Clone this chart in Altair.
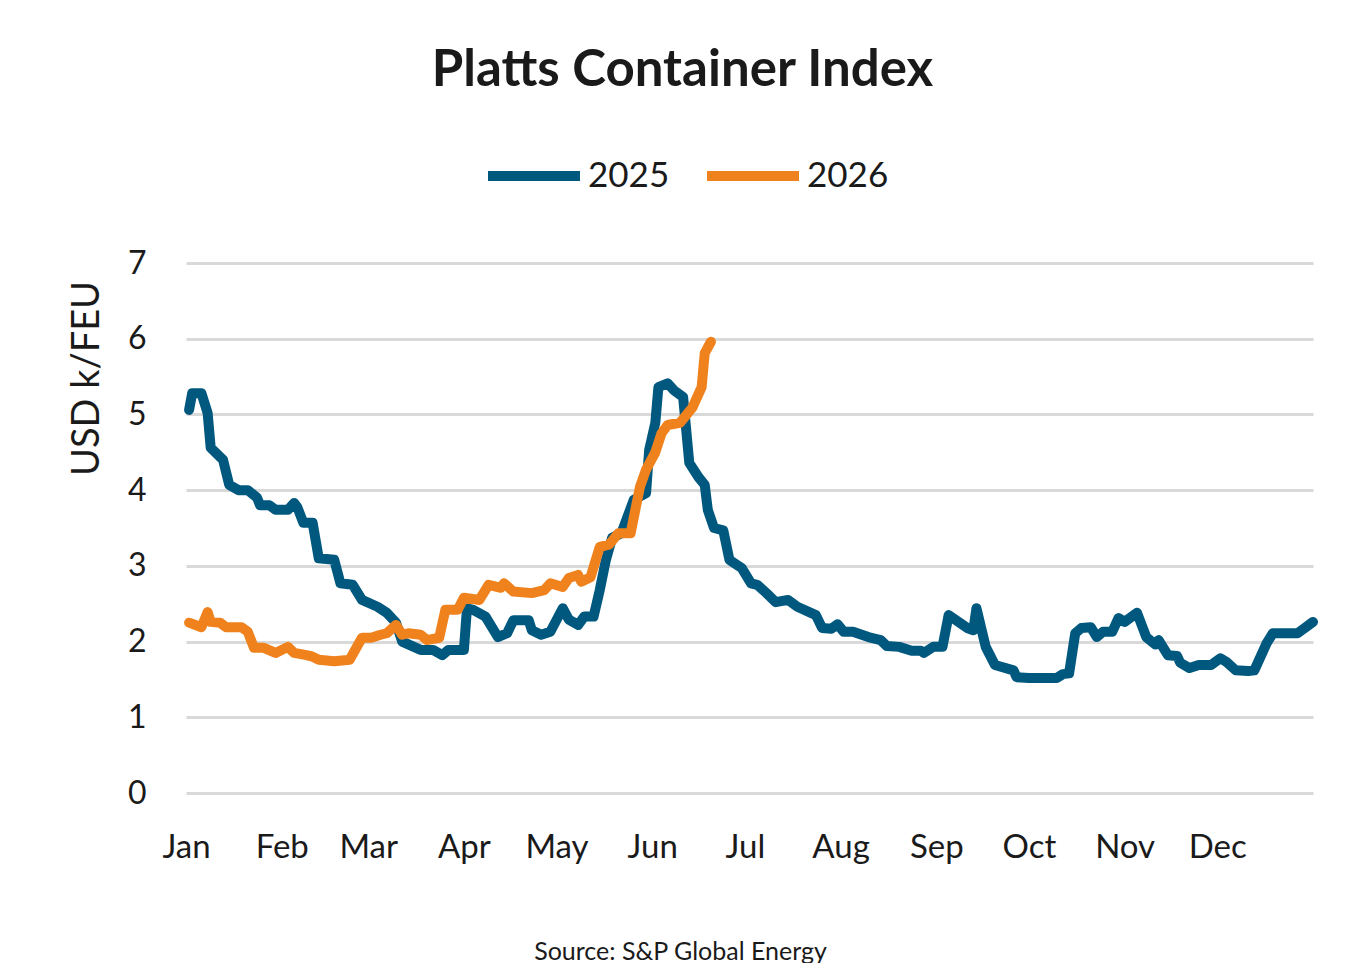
import altair as alt
import pandas as pd

# Day of year (0 = Jan 1) and index value (USD k/FEU)
days_2025 = [1, 2, 5, 7, 8, 12, 14, 17, 20, 23, 24, 27, 29, 33, 35, 36, 38, 41, 43, 48,
             50, 54, 57, 62, 65, 68, 70, 76, 80, 83, 85, 90, 91, 93, 97, 101, 104, 106, 111, 112,
             115, 118, 122, 124, 127, 129, 132, 134, 136, 138, 141, 145, 149, 150, 152, 153, 156, 158, 161, 163,
             166, 168, 169, 171, 174, 176, 180, 183, 185, 188, 191, 195, 198, 204, 206, 209, 211, 213, 216, 221,
             225, 227, 231, 235, 238, 239, 242, 245, 247, 253, 255, 256, 259, 262, 268, 269, 273, 282, 284, 286,
             288, 290, 293, 295, 297, 300, 302, 304, 308, 311, 314, 315, 318, 321, 322, 325, 328, 332, 335, 337,
             340, 344, 346, 350, 352, 360, 362, 365]
values_2025 = [5.06, 5.28, 5.28, 5.02, 4.56, 4.40, 4.07, 4.00, 4.00, 3.90, 3.80, 3.80, 3.74, 3.74, 3.83, 3.78, 3.57, 3.57, 3.10, 3.08,
               2.77, 2.75, 2.55, 2.46, 2.38, 2.25, 2.00, 1.89, 1.89, 1.82, 1.89, 1.89, 2.44, 2.42, 2.33, 2.06, 2.11, 2.28, 2.28, 2.15,
               2.09, 2.13, 2.44, 2.29, 2.22, 2.33, 2.33, 2.68, 3.08, 3.37, 3.43, 3.87, 3.96, 4.53, 4.89, 5.36, 5.41, 5.32, 5.23, 4.36,
               4.17, 4.07, 3.74, 3.50, 3.47, 3.08, 2.97, 2.77, 2.75, 2.64, 2.52, 2.55, 2.46, 2.35, 2.18, 2.17, 2.23, 2.13, 2.13, 2.06,
               2.02, 1.94, 1.93, 1.88, 1.88, 1.85, 1.93, 1.93, 2.35, 2.18, 2.15, 2.44, 1.93, 1.69, 1.62, 1.53, 1.52, 1.52, 1.57, 1.58,
               2.11, 2.18, 2.19, 2.06, 2.13, 2.13, 2.31, 2.26, 2.38, 2.06, 1.96, 2.02, 1.82, 1.81, 1.72, 1.65, 1.69, 1.69, 1.78, 1.73,
               1.62, 1.61, 1.62, 1.98, 2.11, 2.11, 2.17, 2.26]

days_2026 = [1, 5, 7, 8, 11, 13, 18, 20, 22, 25, 29, 33, 35, 39, 41, 43, 48, 53, 57, 60,
             63, 65, 68, 70, 72, 76, 78, 82, 84, 88, 90, 95, 98, 102, 103, 106, 112, 116, 118, 122,
             124, 127, 128, 131, 134, 137, 140, 144, 147, 149, 152, 154, 156, 160, 164, 167, 168, 170]
values_2026 = [2.25, 2.19, 2.39, 2.26, 2.25, 2.19, 2.19, 2.13, 1.92, 1.92, 1.85, 1.93, 1.85, 1.82, 1.80, 1.76, 1.74, 1.76, 2.05, 2.05,
               2.09, 2.11, 2.22, 2.09, 2.11, 2.09, 2.02, 2.05, 2.42, 2.42, 2.58, 2.55, 2.75, 2.71, 2.77, 2.66, 2.64, 2.68, 2.77, 2.72,
               2.84, 2.88, 2.79, 2.85, 3.25, 3.28, 3.43, 3.43, 4.04, 4.27, 4.50, 4.75, 4.86, 4.89, 5.09, 5.36, 5.81, 5.96]

month_starts = [0, 31, 59, 90, 120, 151, 181, 212, 243, 273, 304, 334]
month_labels = ["Jan", "Feb", "Mar", "Apr", "May", "Jun", "Jul", "Aug", "Sep", "Oct", "Nov", "Dec"]
y_ticks = [0, 1, 2, 3, 4, 5, 6, 7]

series_names = ["2025", "2026"]
series_colors = ["#00587F", "#F0821E"]

df = pd.concat([
    pd.DataFrame({"day": days_2025, "value": values_2025, "series": "2025"}),
    pd.DataFrame({"day": days_2026, "value": values_2026, "series": "2026"}),
], ignore_index=True)

FONT = "Lato"
TEXT = "#1a1a1a"

label_expr = "[" + ",".join("'%s'" % m for m in month_labels) + "][indexof([" + \
    ",".join(str(d) for d in month_starts) + "], datum.value)]"

chart = alt.Chart(df).mark_line(strokeWidth=10, strokeCap="round", strokeJoin="round").encode(
    x=alt.X("day:Q",
            scale=alt.Scale(domain=[0, 365], nice=False, zero=False),
            axis=alt.Axis(values=month_starts, labelExpr=label_expr, grid=False, domain=False,
                          ticks=False, tickSize=0, labelPadding=54, labelBaseline="middle",
                          labelFontSize=33, labelFont=FONT, labelColor=TEXT, labelFlush=False,
                          labelOverlap=False,
                          title="Source: S&P Global Energy", titleFont=FONT, titleFontSize=25,
                          titleFontWeight="normal", titleColor=TEXT, titleX=494, titleY=158,
                          titleAlign="center", titleBaseline="middle")),
    y=alt.Y("value:Q",
            scale=alt.Scale(domain=[0, 7], nice=False),
            axis=alt.Axis(values=y_ticks, grid=True, gridColor="#D9D9D9", gridWidth=3,
                          domain=False, ticks=False, tickSize=0, labelPadding=40,
                          labelFontSize=32, labelFont=FONT, labelColor=TEXT,
                          title="USD k/FEU", titleFont=FONT, titleFontSize=38,
                          titleFontWeight="normal", titleColor=TEXT, titleX=-99, titleY=115,
                          titleAlign="center", titleBaseline="middle", titleAngle=270)),
    color=alt.Color("series:N",
                    scale=alt.Scale(domain=series_names, range=series_colors),
                    legend=alt.Legend(title=None, orient="none", direction="horizontal",
                                      legendX=297, legendY=-138, symbolType="stroke",
                                      symbolSize=8464, symbolStrokeWidth=10,
                                      labelFontSize=35, labelFont=FONT, labelColor=TEXT,
                                      labelOffset=3, columnPadding=17, padding=0)),
).properties(
    width=1127,
    height=530,
    autosize=alt.AutoSizeParams(type="none"),
    padding={"left": 178, "top": 255, "right": 40, "bottom": 170},
    title=alt.TitleParams("Platts Container Index", font=FONT, fontSize=51, fontWeight="bold",
                          color=TEXT, anchor="middle", dx=-67, offset=28),
).configure_view(stroke=None)

chart.save("out.html", embed_options={"renderer": "svg", "actions": False})
